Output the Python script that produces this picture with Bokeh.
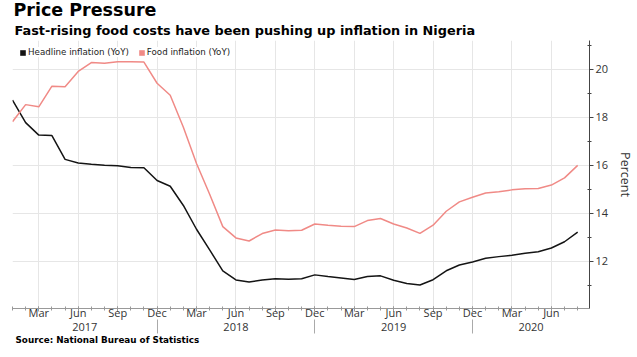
from bokeh.plotting import figure
from bokeh.models import (Range1d, LinearAxis, FixedTicker, Legend, LegendItem,
                          Title, ColumnDataSource)
from bokeh.embed import file_html
from bokeh.resources import INLINE

# ---- data (monthly, Jan 2017 .. Aug 2020) ----
years = ["2017", "2018", "2019", "2020"]
headline = [18.72, 17.78, 17.26, 17.24, 16.25, 16.10, 16.05, 16.01, 15.98, 15.91, 15.90, 15.37,
            15.13, 14.33, 13.34, 12.48, 11.61, 11.23, 11.14, 11.23, 11.28, 11.26, 11.28, 11.44,
            11.37, 11.31, 11.25, 11.37, 11.40, 11.22, 11.08, 11.02, 11.24, 11.61, 11.85, 11.98,
            12.13, 12.20, 12.26, 12.34, 12.40, 12.56, 12.82, 13.22]
food = [17.82, 18.53, 18.44, 19.30, 19.27, 19.91, 20.28, 20.25, 20.32, 20.31, 20.30, 19.42,
        18.92, 17.59, 16.08, 14.80, 13.45, 12.98, 12.85, 13.16, 13.31, 13.28, 13.30, 13.56,
        13.51, 13.47, 13.45, 13.70, 13.79, 13.56, 13.39, 13.17, 13.51, 14.09, 14.48, 14.67,
        14.85, 14.90, 14.98, 15.03, 15.04, 15.18, 15.48, 16.00]
quarter_months = {2: "Mar", 5: "Jun", 8: "Sep", 11: "Dec"}
y_ticks = [12, 14, 16, 18, 20]
y_minor = [11, 13, 15, 17, 19, 21]
series_names = ["Headline inflation (YoY)", "Food inflation (YoY)"]
title_text = "Price Pressure"
subtitle_text = "Fast-rising food costs have been pushing up inflation in Nigeria"
source_text = "Source: National Bureau of Statistics"

n = len(headline)
x = list(range(n))
x_end = n - 1 + 0.9
y_lo, y_hi = 10.04, 21.2

TXT = "#333333"
BLACK = "#141414"
PINK = "#f08a86"

FRAME_LEFT, FRAME_BOTTOM = 12, 308  # canvas pixels

src = ColumnDataSource(dict(x=x, headline=headline, food=food))

p = figure(width=637, height=357, x_range=Range1d(0, x_end), y_range=Range1d(y_lo, y_hi),
           output_backend="svg", toolbar_location=None, y_axis_location="right",
           min_border_left=FRAME_LEFT, min_border_right=39, min_border_top=40,
           min_border_bottom=357 - FRAME_BOTTOM)
p.outline_line_color = None
p.background_fill_color = "white"

# title + subtitle
p.title.text = title_text
p.title.text_font = "DejaVu Sans"
p.title.text_font_style = "bold"
p.title.text_font_size = "17.5px"
p.title.text_color = "#000000"
p.title.align = "left"
p.title.offset = 1
p.title.standoff = -5
p.add_layout(Title(text=subtitle_text, text_font="DejaVu Sans", text_font_style="bold",
                   text_font_size="12.85px", text_color="#000000", align="left",
                   offset=2, standoff=6), "above")

# month axis
month_ticks, month_labels = [], {}
for yi in range(len(years)):
    for m, name in quarter_months.items():
        idx = 12 * yi + m
        if idx <= x_end:
            month_ticks.append(idx)
            month_labels[idx] = name
xa = p.xaxis[0]
xa.ticker = FixedTicker(ticks=month_ticks, minor_ticks=list(range(0, int(x_end) + 1)))
xa.major_label_overrides = month_labels
xa.axis_line_color = "#999999"
xa.major_tick_line_color = "#999999"
xa.minor_tick_line_color = "#999999"
xa.major_tick_in = 2
xa.major_tick_out = 3
xa.minor_tick_in = 2
xa.minor_tick_out = 2
xa.major_label_standoff = -7
xa.major_label_text_font = "Open Sans"
xa.major_label_text_font_size = "11px"
xa.major_label_text_color = TXT

# year labels axis
year_centers, year_labels = [], {}
for yi, yr in enumerate(years):
    a = max(0, 12 * yi - 1)
    b = min(x_end, 12 * yi + 11)
    c = round((a + b) / 2, 2)
    year_centers.append(c)
    year_labels[c] = yr
ya = LinearAxis(ticker=FixedTicker(ticks=year_centers), major_label_overrides=year_labels,
                axis_line_color=None, major_tick_line_color=None, minor_tick_line_color=None,
                major_tick_in=0, major_tick_out=0, major_label_standoff=0,
                major_label_text_font="Open Sans", major_label_text_font_size="11px",
                major_label_text_color=TXT)
p.add_layout(ya, "below")

# year separators
seps = [12 * yi - 1 for yi in range(1, len(years))]
sa = LinearAxis(ticker=FixedTicker(ticks=seps), major_label_overrides={s: "" for s in seps},
                axis_line_color=None, major_tick_line_color="#aaaaaa", minor_tick_line_color=None,
                major_tick_in=14, major_tick_out=0, major_label_standoff=0,
                major_label_text_font_size="1px")
p.add_layout(sa, "below")

# source line
p.add_layout(Title(text=source_text, text_font="DejaVu Sans", text_font_style="bold",
                   text_font_size="8.8px", text_color="#000000", align="left",
                   offset=3, standoff=-2), "below")

# right axis
ra = p.yaxis[0]
ra.ticker = FixedTicker(ticks=y_ticks, minor_ticks=y_minor)
ra.axis_label = "Percent"
ra.axis_label_text_font = "Open Sans"
ra.axis_label_text_font_style = "normal"
ra.axis_label_text_font_size = "12.5px"
ra.axis_label_text_color = TXT
ra.axis_label_standoff = 6
ra.axis_line_color = "#444444"
ra.major_tick_line_color = "#444444"
ra.minor_tick_line_color = "#444444"
ra.major_tick_in = 0
ra.major_tick_out = 4
ra.minor_tick_in = 2
ra.minor_tick_out = 2
ra.major_label_standoff = 2
ra.major_label_text_font = "Open Sans"
ra.major_label_text_font_size = "11px"
ra.major_label_text_color = TXT

p.xgrid.ticker = FixedTicker(ticks=month_ticks)
p.ygrid.ticker = FixedTicker(ticks=y_ticks)
p.xgrid.grid_line_color = "#e6e6e6"
p.ygrid.grid_line_color = "#e6e6e6"

p.line("x", "headline", source=src, line_color=BLACK, line_width=1.5)
p.line("x", "food", source=src, line_color=PINK, line_width=1.5)

# legend swatches (zero-area quads on the data, used only for the legend)
q1 = p.quad(left="x", right="x", top="headline", bottom="headline", source=src,
            fill_color=BLACK, line_color=None)
q2 = p.quad(left="x", right="x", top="food", bottom="food", source=src,
            fill_color=PINK, line_color=None)
legend = Legend(items=[LegendItem(label=series_names[0], renderers=[q1]),
                       LegendItem(label=series_names[1], renderers=[q2])],
                orientation="horizontal", location="top_left",
                glyph_width=7, glyph_height=7, label_standoff=2, spacing=9,
                padding=6, margin=7, background_fill_color="white", background_fill_alpha=1,
                border_line_color=None, label_text_font="DejaVu Sans",
                label_text_font_size="8.7px", label_text_color="#222222")
p.add_layout(legend)

open("out.html", "w").write(file_html(p, INLINE))
